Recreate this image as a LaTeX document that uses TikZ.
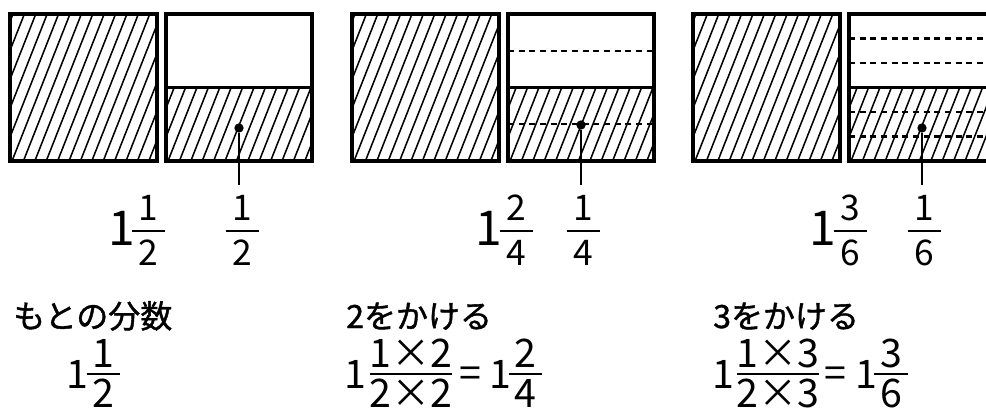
\documentclass[tikz,border=0pt]{standalone}
\usepackage{fontspec}
\setmainfont{Noto Sans CJK JP}
\newfontfamily\midashifont{Noto Sans CJK JP}[BoldFont={Noto Sans CJK JP}, BoldFeatures={FakeBold=1.2}]
\usetikzlibrary{positioning}

\tikzset{
  waku/.style={line width=2.6pt},
  shasen/.style={line width=1.15pt},
  hasen/.style={line width=1.6pt, dash pattern=on 4.5pt off 3.5pt},
  shikiri/.style={line width=2.4pt},
  ten/.style={circle, fill=black, inner sep=0pt, minimum size=7pt},
  hikidashi/.style={line width=1pt},
  bosen/.style={line width=1.6pt},
  seisu/.style={inner sep=0pt, anchor=base, text depth=0pt},
  midashi/.style={inner sep=0pt, anchor=base west, font=\fontsize{24pt}{28pt}\midashifont\bfseries},
}

% fraction: name, x, bar y, half width of bar, numerator, denominator
\newcommand{\bunsu}[6]{%
  \node[bunshi] (#1n) at (#2,#3) {#5};
  \node[bunbo] (#1d) at (#2,#3) {#6};
  \draw[bosen] (#2-#4,#3) -- (#2+#4,#3);
}

\begin{document}
\begin{tikzpicture}[x=0.75pt, y=-0.75pt]
  \useasboundingbox (0,0) rectangle (986,410);
  \clip (0,0) rectangle (986,410);

  % three pairs of squares
  \foreach \ox/\n/\dy in {0/1/128, 342/2/125, 683/3/128} {
    % left square, all hatched
    \begin{scope}
      \clip (10+\ox,14) rectangle (157+\ox,161);
      \foreach \k in {-6,...,14}
        \draw[shasen] (\ox+12+\k*11.4,161) -- ++(58,-147);
    \end{scope}
    % right square, lower half hatched
    \begin{scope}
      \clip (166+\ox,87.5) rectangle (312+\ox,161);
      \foreach \k in {-4,...,14}
        \draw[shasen] (\ox+168+\k*11.4,161) -- ++(58,-147);
    \end{scope}
    % dashed parts
    \pgfmathtruncatemacro\m{2*\n-1}
    \foreach \j in {1,...,\m} {
      \ifnum\j=\n\relax\else
        \pgfmathsetmacro\yy{14+\j*147/(2*\n)}
        \draw[hasen] (166+\ox,\yy) -- (312+\ox,\yy);
      \fi
    }
    % outlines
    \draw[waku] (10+\ox,14) rectangle (157+\ox,161);
    \draw[waku] (166+\ox,14) rectangle (312+\ox,161);
    \draw[shikiri] (166+\ox,87.5) -- (312+\ox,87.5);
    % pointer
    \node[ten] (ten\n) at (239+\ox,\dy) {};
    \coordinate (saki\n) at (239+\ox,185);
    \draw[hikidashi] (ten\n) -- (saki\n);
  }

  % fractions under the squares
  \begin{scope}[suji/.style={inner sep=0pt, text depth=0pt, font=\fontsize{26.5pt}{30pt}\selectfont},
      bunshi/.style={suji, anchor=base, yshift=8.25pt},
      bunbo/.style={suji, anchor=base, yshift=-25.5pt},
      seisu/.append style={font=\fontsize{36pt}{40pt}\selectfont}]
    \node[seisu] (ue1s) at (122,245) {1};
    \bunsu{ue1a}{148.5}{231}{16.5}{1}{2}
    \bunsu{ue1b}{242}{231}{16.5}{1}{2}

    \node[seisu] (ue2s) at (489,245) {1};
    \bunsu{ue2a}{516}{231}{16.5}{2}{4}
    \bunsu{ue2b}{583.5}{231}{16.5}{1}{4}

    \node[seisu] (ue3s) at (823,245) {1};
    \bunsu{ue3a}{850.5}{231}{16.5}{3}{6}
    \bunsu{ue3b}{924}{231}{16.5}{1}{6}
  \end{scope}

  % headings
  \node[midashi] (mi1) at (13,328) {もとの分数};
  \node[midashi] (mi2) at (346,328) {2をかける};
  \node[midashi] (mi3) at (713,328) {3をかける};

  % calculations
  \begin{scope}[suji/.style={inner sep=0pt, text depth=0pt, font=\fontsize{29.5pt}{33pt}\selectfont},
      bunshi/.style={suji, anchor=base, yshift=5.25pt},
      bunbo/.style={suji, anchor=base, yshift=-24.75pt},
      seisu/.append style={font=\fontsize{29.5pt}{33pt}\selectfont}]
    \node[seisu] (sh1s) at (77,388) {1};
    \bunsu{sh1a}{103.5}{374}{16.5}{1}{2}

    \node[seisu] (sh2s) at (355,388) {1};
    \bunsu{sh2a}{411}{374}{41}{1×2}{2×2}
    \node[seisu] (sh2q) at (470,387) {=};
    \node[seisu] (sh2t) at (500,388) {1};
    \bunsu{sh2b}{525.5}{374}{16.5}{2}{4}

    \node[seisu] (sh3s) at (723,388) {1};
    \bunsu{sh3a}{778}{374}{41}{1×3}{2×3}
    \node[seisu] (sh3q) at (835.5,387) {=};
    \node[seisu] (sh3t) at (866,388) {1};
    \bunsu{sh3b}{891}{374}{17}{3}{6}
  \end{scope}
\end{tikzpicture}
\end{document}
